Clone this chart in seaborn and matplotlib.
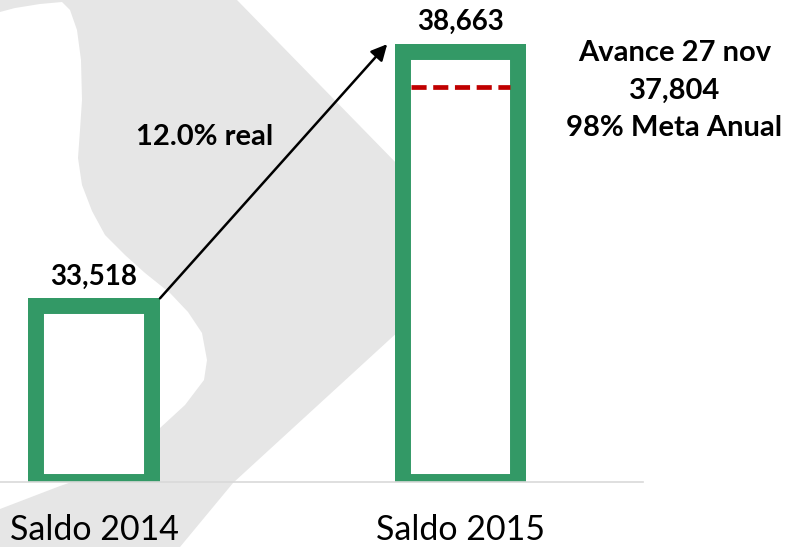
import matplotlib
matplotlib.use('Agg')
import matplotlib.pyplot as plt
from matplotlib.patches import Polygon
import seaborn as sns

# Data
labels = ['Saldo 2014', 'Saldo 2015']
saldos = [33518, 38663]
avance = 37804
avance_label = 'Avance 27 nov'
meta_pct = 98
growth_real = 12.0

green = '#339966'
red = '#c00000'

plt.rcParams['font.family'] = ['Lato', 'DejaVu Sans']

W, H = 786, 547
fig = plt.figure(figsize=(W / 100, H / 100), dpi=100)
fig.patch.set_facecolor('white')

# faint watermark in the background (pixel coords, y down)
wm = [(0, 0), (237, 0), (484, 253), (233, 483), (180, 547), (0, 547), (0, 509),
      (60, 486), (101, 472), (135, 450), (160, 428), (185, 405), (204, 380),
      (207, 360), (202, 333), (188, 312), (170, 293), (145, 273), (125, 255),
      (105, 235), (92, 211), (82, 185), (78, 158), (80, 130), (82, 100),
      (81, 60), (77, 30), (70, 10), (62, 2), (40, 4), (15, 8), (0, 12)]
fig.add_artist(Polygon([(x / W, 1 - y / H) for x, y in wm], closed=True,
                       transform=fig.transFigure, facecolor='#e6e6e6',
                       edgecolor='none', zorder=-1))

ax = fig.add_axes([0, 65 / H, 643 / W, 482 / H])
ax.set_facecolor('none')

ymin, ymax = 29800, 39557
px_per_unit = 482 / (ymax - ymin)
floor = ymin - 8 / px_per_unit
bar_w = 0.36
sns.barplot(x=labels, y=saldos, width=bar_w, color='white', saturation=1,
            edgecolor=green, linewidth=23, ax=ax)
# bars start just under the axis floor; keep only the inner half of the outline
for p, v in zip(ax.patches, saldos):
    p.set_y(floor)
    p.set_height(v - floor)
    p.set_clip_path(p.get_path(), p.get_transform())

ax.set_xlim(-0.2565, 1.498)
ax.set_ylim(ymin, ymax)

# value labels
for i, v in enumerate(saldos):
    ax.annotate(f'{v:,}', xy=(i, v), xytext=(0, 15.8), textcoords='offset points',
                ha='center', va='center', fontsize=20, fontweight='bold')

# advance line inside 2015 bar
inner = bar_w / 2 - 16 / 366.5
ax.hlines(avance, 1 - inner, 1 + inner, colors=red, linewidth=3.4,
          linestyles=(0, (3.2, 1.4)), zorder=5)
ax.annotate(f'{avance_label}\n{avance:,}\n{meta_pct}% Meta Anual', xy=(1, avance),
            xytext=(154, -3), textcoords='offset points', ha='center', va='center',
            multialignment='center', fontsize=21, fontweight='bold',
            linespacing=1.55, annotation_clip=False)

# growth arrow
x0, x1 = bar_w / 2, 1 - bar_w / 2 - 0.02
ax.annotate('', xy=(x1, saldos[1]), xytext=(x0, saldos[0]),
            arrowprops=dict(arrowstyle='-|>', color='black', lw=1.8,
                            mutation_scale=24, shrinkA=0, shrinkB=0))
ax.annotate(f'{growth_real:.1f}% real',
            xy=((x0 + x1) / 2, (saldos[0] + saldos[1]) / 2),
            xytext=(-50, 25), textcoords='offset points', ha='center', va='center',
            fontsize=21, fontweight='bold')

ax.set_xlabel('')
ax.set_ylabel('')
ax.set_yticks([])
for s in ['left', 'right', 'top']:
    ax.spines[s].set_visible(False)
ax.spines['bottom'].set_color('#d9d9d9')
ax.spines['bottom'].set_linewidth(1.2)
ax.tick_params(axis='x', length=0, pad=23, labelsize=24.5)

fig.savefig('out.png', dpi=100)
